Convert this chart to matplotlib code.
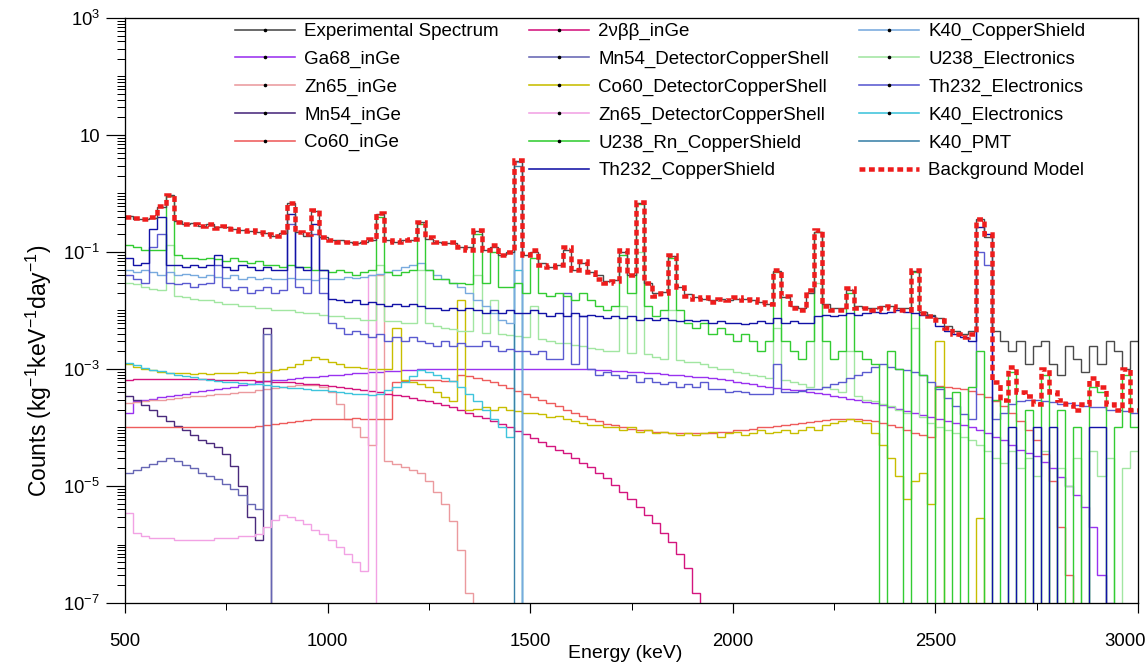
import numpy as np
import matplotlib
matplotlib.use('Agg')
import matplotlib.pyplot as plt
import matplotlib.transforms as mtransforms
from matplotlib.lines import Line2D
from matplotlib.ticker import FixedLocator, FixedFormatter, NullFormatter

FONT = 'Liberation Sans'
plt.rcParams['font.family'] = [FONT, 'DejaVu Sans']
plt.rcParams['mathtext.fontset'] = 'custom'
plt.rcParams['mathtext.rm'] = FONT
plt.rcParams['mathtext.it'] = FONT
plt.rcParams['mathtext.bf'] = FONT

# ---------------- data (20 keV bins, 500-3000 keV) ----------------
E_MIN, E_MAX, E_BIN = 500, 3000, 20

experimental = [
    0.42, 0.37, 0.37, 0.38, 0.58, 0.95, 0.34, 0.30, 0.31, 0.28,
    0.30, 0.27, 0.27, 0.25, 0.24, 0.23, 0.22, 0.21, 0.19, 0.21,
    0.68, 0.22, 0.19, 0.50, 0.18, 0.16, 0.16, 0.15, 0.14, 0.15,
    0.16, 0.45, 0.16, 0.15, 0.16, 0.16, 0.32, 0.17, 0.15, 0.14,
    0.14, 0.12, 0.12, 0.23, 0.11, 0.12, 0.09, 0.10, 3.6, 0.09,
    0.10, 0.065, 0.055, 0.06, 0.11, 0.05, 0.065, 0.045, 0.04, 0.032,
    0.033, 0.10, 0.04, 0.70, 0.03, 0.02, 0.021, 0.085, 0.025, 0.019,
    0.017, 0.016, 0.015, 0.016, 0.015, 0.016, 0.016, 0.015, 0.014, 0.013,
    0.048, 0.017, 0.012, 0.011, 0.02, 0.22, 0.013, 0.011, 0.011, 0.022,
    0.012, 0.011, 0.011, 0.012, 0.012, 0.011, 0.011, 0.047, 0.0095, 0.0085,
    0.0075, 0.0055, 0.0045, 0.004, 0.0045, 0.36, 0.18, 0.0045, 0.003, 0.002,
    0.003, 0.0012, 0.0025, 0.003, 0.0012, 0.0008, 0.0025, 0.0015, 0.0009, 0.0025,
    0.0012, 0.003, 0.002, 0.001, 0.003,
]

background_model = [
    0.40, 0.38, 0.36, 0.40, 0.60, 0.95, 0.33, 0.30, 0.30, 0.28,
    0.30, 0.26, 0.28, 0.25, 0.23, 0.24, 0.22, 0.20, 0.19, 0.22,
    0.70, 0.22, 0.20, 0.52, 0.18, 0.16, 0.15, 0.15, 0.14, 0.15,
    0.17, 0.46, 0.16, 0.15, 0.16, 0.17, 0.33, 0.18, 0.15, 0.14,
    0.15, 0.12, 0.11, 0.24, 0.11, 0.13, 0.09, 0.10, 3.8, 0.09,
    0.11, 0.06, 0.055, 0.06, 0.12, 0.05, 0.07, 0.045, 0.035, 0.03,
    0.032, 0.11, 0.04, 0.72, 0.03, 0.018, 0.02, 0.09, 0.025, 0.018,
    0.016, 0.017, 0.014, 0.016, 0.015, 0.017, 0.015, 0.016, 0.014, 0.013,
    0.05, 0.018, 0.011, 0.010, 0.022, 0.24, 0.012, 0.010, 0.010, 0.024,
    0.011, 0.011, 0.010, 0.011, 0.012, 0.010, 0.010, 0.05, 0.009, 0.008,
    0.007, 0.005, 0.004, 0.0035, 0.004, 0.37, 0.2, 6e-4, 3e-4, 1.1e-3,
    4e-4, 3.5e-4, 2.5e-4, 1e-3, 4e-4, 3e-4, 2.5e-4, 2e-4, 2.5e-4, 7e-4,
    5e-4, 2.5e-4, 2e-4, 1e-3, 2e-4,
]

ga68_inge = [
    1.8e-4, 2.8e-4, 3.0e-4, 3.1e-4, 3.3e-4, 3.4e-4, 3.6e-4, 3.8e-4, 4.0e-4, 4.2e-4,
    4.4e-4, 4.6e-4, 4.8e-4, 5.0e-4, 5.3e-4, 5.6e-4, 5.9e-4, 6.2e-4, 6.4e-4, 6.6e-4,
    6.8e-4, 7.0e-4, 7.2e-4, 7.4e-4, 7.6e-4, 7.8e-4, 8.0e-4, 8.2e-4, 8.4e-4, 8.6e-4,
    8.8e-4, 9.0e-4, 9.2e-4, 9.4e-4, 9.6e-4, 9.8e-4, 1.0e-3, 1.0e-3, 1.0e-3, 1.0e-3,
    1.0e-3, 1.0e-3, 1.0e-3, 1.0e-3, 1.0e-3, 1.0e-3, 1.0e-3, 1.0e-3, 1.0e-3, 1.0e-3,
    1.0e-3, 1.0e-3, 1.0e-3, 1.0e-3, 1.0e-3, 1.0e-3, 1.0e-3, 1.0e-3, 9.8e-4, 9.6e-4,
    9.4e-4, 9.2e-4, 9.0e-4, 8.8e-4, 8.6e-4, 8.4e-4, 8.2e-4, 8.0e-4, 7.8e-4, 7.6e-4,
    7.4e-4, 7.2e-4, 7.0e-4, 6.7e-4, 6.4e-4, 6.1e-4, 5.8e-4, 5.5e-4, 5.2e-4, 5.0e-4,
    4.8e-4, 4.6e-4, 4.4e-4, 4.3e-4, 4.1e-4, 3.9e-4, 3.7e-4, 3.5e-4, 3.3e-4, 3.1e-4,
    2.9e-4, 2.75e-4, 2.6e-4, 2.4e-4, 2.25e-4, 2.1e-4, 1.95e-4, 1.8e-4, 1.65e-4, 1.5e-4,
    1.4e-4, 1.3e-4, 1.2e-4, 1.1e-4, 1.0e-4, 9e-5, 8e-5, 7e-5, 6e-5, 5e-5,
    4.2e-5, 3.7e-5, 3.2e-5, 2.6e-5, 2.0e-5, 1.4e-5, 1.0e-5, 7e-6, 4.4e-6, 2e-6,
    3e-7, 1e-7, 0, 0, 0,
]

zn65_inge = [
    2.6e-4, 2.7e-4, 2.8e-4, 2.9e-4, 3.0e-4, 3.1e-4, 3.2e-4, 3.3e-4, 3.4e-4, 3.5e-4,
    3.6e-4, 3.7e-4, 3.8e-4, 3.9e-4, 4.0e-4, 4.1e-4, 4.3e-4, 4.5e-4, 4.7e-4, 4.9e-4,
    5.1e-4, 5.3e-4, 5.4e-4, 5.4e-4, 5.0e-4, 4.0e-4, 2.5e-4, 1.4e-4, 1.0e-4, 7e-5,
    5e-5, 0.04, 2.7e-5, 2.4e-5, 2.1e-5, 1.9e-5, 1.7e-5, 1.2e-5, 8e-6, 5e-6,
    2.5e-6, 8e-7, 1.5e-7, 0, 0, 0, 0, 0, 0, 0,
] + [0] * 75

mn54_inge = [
    3.4e-4, 3.0e-4, 2.4e-4, 2.0e-4, 1.6e-4, 1.3e-4, 1.05e-4, 9e-5, 7.5e-5, 6.2e-5,
    5.5e-5, 4.7e-5, 3.5e-5, 2.2e-5, 1.0e-5, 3e-6, 1.2e-6, 5e-3, 0, 0,
] + [0] * 105

co60_inge = [
    1.0e-4, 1.0e-4, 1.0e-4, 1.0e-4, 1.0e-4, 1.0e-4, 1.0e-4, 1.0e-4, 1.0e-4, 1.0e-4,
    1.0e-4, 1.0e-4, 1.0e-4, 1.0e-4, 1.0e-4, 1.0e-4, 1.05e-4, 1.1e-4, 1.15e-4, 1.2e-4,
    1.25e-4, 1.3e-4, 1.35e-4, 1.4e-4, 1.4e-4, 1.4e-4, 1.4e-4, 1.4e-4, 1.45e-4, 1.4e-4,
    1.4e-4, 1.4e-4, 1.4e-4, 6.0e-4, 6.2e-4, 6.5e-4, 6.5e-4, 6.5e-4, 6.5e-4, 6.3e-4,
    6.2e-4, 8.0e-4, 7.5e-4, 7.0e-4, 6.5e-4, 6.0e-4, 5.3e-4, 4.8e-4, 4.2e-4, 3.8e-4,
    3.3e-4, 3.0e-4, 2.6e-4, 2.3e-4, 2.0e-4, 1.8e-4, 1.6e-4, 1.4e-4, 1.3e-4, 1.15e-4,
    1.1e-4, 1.0e-4, 9.5e-5, 9e-5, 9e-5, 8.5e-5, 8.5e-5, 8e-5, 8e-5, 8e-5,
    8e-5, 8e-5, 8e-5, 8.5e-5, 8.5e-5, 9e-5, 9e-5, 9.5e-5, 1.0e-4, 1.0e-4,
    1.05e-4, 1.1e-4, 1.15e-4, 1.2e-4, 1.25e-4, 1.3e-4, 1.35e-4, 1.4e-4, 1.4e-4, 1.4e-4,
    1.4e-4, 1.35e-4, 1.3e-4, 1.2e-4, 1.1e-4, 1.0e-4, 9e-5, 8e-5, 7.5e-5, 7e-5,
    5.2e-4, 5.0e-4, 4.8e-4, 4.5e-4, 4.2e-4, 3.8e-4, 3.3e-4, 2.8e-4, 2.3e-4, 1.8e-4,
    1.3e-4, 9e-5, 6e-5, 3.5e-5, 1.2e-5, 2e-6, 3e-7, 0, 0, 0,
    0, 0, 0, 0, 0,
]

two_nu_bb_inge = [
    6.6e-4, 6.7e-4, 6.7e-4, 6.8e-4, 6.8e-4, 6.8e-4, 6.8e-4, 6.8e-4, 6.7e-4, 6.7e-4,
    6.7e-4, 6.6e-4, 6.6e-4, 6.5e-4, 6.5e-4, 6.4e-4, 6.3e-4, 6.2e-4, 6.1e-4, 6.0e-4,
    5.9e-4, 5.8e-4, 5.6e-4, 5.5e-4, 5.4e-4, 5.2e-4, 5.0e-4, 4.8e-4, 4.6e-4, 4.4e-4,
    4.2e-4, 4.0e-4, 3.8e-4, 3.6e-4, 3.4e-4, 3.2e-4, 3.0e-4, 2.8e-4, 2.6e-4, 2.4e-4,
    2.2e-4, 2.0e-4, 1.8e-4, 1.6e-4, 1.45e-4, 1.3e-4, 1.15e-4, 1.0e-4, 8.8e-5, 7.6e-5,
    6.6e-5, 5.7e-5, 4.9e-5, 4.2e-5, 3.6e-5, 3.0e-5, 2.5e-5, 2.1e-5, 1.7e-5, 1.35e-5,
    1.05e-5, 8e-6, 6e-6, 4.4e-6, 3.2e-6, 2.3e-6, 1.6e-6, 1.1e-6, 7e-7, 4e-7,
    1.5e-7, 0, 0, 0, 0, 0, 0, 0, 0, 0,
] + [0] * 45

mn54_detector_cu = [
    1.7e-5, 1.9e-5, 2.1e-5, 2.4e-5, 2.7e-5, 3.0e-5, 2.7e-5, 2.3e-5, 2.0e-5, 1.7e-5,
    1.5e-5, 1.3e-5, 1.1e-5, 9e-6, 7e-6, 5e-6, 4e-6, 4e-3, 0, 0,
] + [0] * 105

co60_detector_cu = [
    1.2e-3, 1.1e-3, 1.0e-3, 9.5e-4, 9.0e-4, 8.6e-4, 8.4e-4, 8.6e-4, 8.2e-4, 8.5e-4,
    8.3e-4, 8.6e-4, 8.4e-4, 8.6e-4, 8.8e-4, 8.6e-4, 8.8e-4, 9.0e-4, 9.5e-4, 1.0e-3,
    1.1e-3, 1.2e-3, 1.4e-3, 1.6e-3, 1.5e-3, 1.3e-3, 1.2e-3, 1.1e-3, 1.1e-3, 1.05e-3,
    1.0e-3, 1.0e-3, 1.0e-3, 5e-3, 6.5e-4, 6.0e-4, 5.5e-4, 5.0e-4, 4.0e-4, 3.3e-4,
    2.8e-4, 1.5e-2, 2.0e-4, 2.1e-4, 2.2e-4, 2.0e-4, 2.2e-4, 2.0e-4, 1.9e-4, 1.8e-4,
    1.8e-4, 1.7e-4, 1.5e-4, 1.6e-4, 1.4e-4, 1.3e-4, 1.2e-4, 1.1e-4, 1.1e-4, 1.0e-4,
    1.0e-4, 9e-5, 1.0e-4, 8.5e-5, 9e-5, 8e-5, 8.5e-5, 8e-5, 7.5e-5, 8e-5,
    7.5e-5, 8e-5, 8.5e-5, 7e-5, 8e-5, 8.5e-5, 7.5e-5, 8e-5, 9e-5, 8e-5,
    8.5e-5, 9e-5, 8e-5, 9e-5, 1.0e-4, 9e-5, 1.1e-4, 1.2e-4, 1.3e-4, 1.4e-4,
    1.3e-4, 1.2e-4, 8e-5, 5e-5, 3e-5, 1.5e-5, 6e-6, 1.2e-5, 1.7e-5, 5e-6,
    3e-3, 0, 0, 0, 0, 2.8e-6, 0, 0, 0, 0,
] + [0] * 15

zn65_detector_cu = [
    3.4e-6, 1.6e-6, 1.4e-6, 1.3e-6, 1.3e-6, 1.3e-6, 1.2e-6, 1.2e-6, 1.2e-6, 1.2e-6,
    1.2e-6, 1.3e-6, 1.3e-6, 1.3e-6, 1.4e-6, 1.4e-6, 1.5e-6, 2.0e-6, 2.6e-6, 3.2e-6,
    3.0e-6, 2.6e-6, 2.2e-6, 1.8e-6, 1.5e-6, 1.2e-6, 9e-7, 7e-7, 5e-7, 3.5e-7,
    0.04, 0, 0, 0, 0, 0, 0, 0, 0, 0,
] + [0] * 85

u238_rn_copper_shield = [
    0.13, 0.12, 0.11, 0.11, 0.11, 0.90, 0.09, 0.08, 0.08, 0.075,
    0.08, 0.075, 0.07, 0.08, 0.07, 0.065, 0.07, 0.06, 0.06, 0.055,
    0.06, 0.055, 0.055, 0.05, 0.05, 0.045, 0.05, 0.045, 0.04, 0.045,
    0.05, 0.40, 0.045, 0.04, 0.045, 0.05, 0.30, 0.05, 0.035, 0.035,
    0.03, 0.03, 0.028, 0.20, 0.03, 0.10, 0.025, 0.025, 0.03, 0.02,
    0.08, 0.02, 0.018, 0.02, 0.018, 0.015, 0.02, 0.015, 0.012, 0.01,
    0.012, 0.09, 0.02, 0.65, 0.012, 0.008, 0.01, 0.08, 0.01, 0.006,
    0.005, 0.006, 0.004, 0.005, 0.004, 0.003, 0.004, 0.003, 0.002, 0.003,
    0.045, 0.003, 0.002, 0.0015, 0.003, 0.22, 0.003, 0.0015, 0.002, 0.02,
    0.002, 0.0015, 0.0012, 0, 0.002, 0.001, 0, 0.045, 0.0008, 0,
    0.0005, 0, 0.0004, 0, 0.0005, 0.002, 0, 0.0003, 0, 0.0009,
    0, 0.0002, 0, 0.0008, 0, 0.0002, 0, 0.0001, 0, 0.0005,
    0.0004, 0, 0.0001, 0.0008, 0.0001,
]

th232_copper_shield = [
    0.08, 0.06, 0.065, 0.25, 0.40, 0.06, 0.06, 0.055, 0.06, 0.055,
    0.06, 0.09, 0.055, 0.05, 0.06, 0.055, 0.05, 0.055, 0.05, 0.05,
    0.45, 0.055, 0.05, 0.30, 0.05, 0.016, 0.015, 0.014, 0.015, 0.013,
    0.014, 0.013, 0.012, 0.013, 0.012, 0.013, 0.012, 0.011, 0.011, 0.010,
    0.011, 0.010, 0.011, 0.010, 0.009, 0.010, 0.009, 0.010, 0.009, 0.009,
    0.010, 0.009, 0.008, 0.009, 0.008, 0.009, 0.008, 0.0085, 0.008, 0.0075,
    0.008, 0.0075, 0.008, 0.007, 0.0075, 0.007, 0.0075, 0.007, 0.0065, 0.007,
    0.0065, 0.007, 0.006, 0.0065, 0.006, 0.0062, 0.0058, 0.006, 0.0065, 0.006,
    0.0075, 0.006, 0.0065, 0.006, 0.0062, 0.008, 0.0085, 0.008, 0.0085, 0.009,
    0.0085, 0.009, 0.0095, 0.009, 0.0095, 0.010, 0.0095, 0.009, 0.0085, 0.008,
    0.0055, 0.0045, 0.004, 0.0035, 0.003, 0.27, 0.2, 0, 0, 1e-4,
    0, 0, 1e-4, 0, 1e-4, 0, 0, 0, 0, 1e-4,
    1e-4, 0, 0, 0, 0,
]

k40_copper_shield = [
    0.05, 0.045, 0.05, 0.045, 0.04, 0.045, 0.04, 0.042, 0.04, 0.038,
    0.04, 0.038, 0.036, 0.04, 0.035, 0.038, 0.035, 0.036, 0.034, 0.035,
    0.036, 0.034, 0.035, 0.033, 0.036, 0.034, 0.035, 0.037, 0.036, 0.038,
    0.04, 0.042, 0.045, 0.05, 0.055, 0.06, 0.065, 0.05, 0.04, 0.035,
    0.03, 0.025, 0.02, 0.015, 0.012, 0.009, 0.007, 0.006, 3.5, 0,
] + [0] * 75

u238_electronics = [
    0.03, 0.028, 0.025, 0.023, 0.022, 0.13, 0.018, 0.017, 0.016, 0.015,
    0.015, 0.014, 0.013, 0.013, 0.012, 0.012, 0.011, 0.011, 0.010, 0.010,
    0.010, 0.0095, 0.009, 0.009, 0.0085, 0.008, 0.008, 0.0075, 0.0075, 0.007,
    0.007, 0.06, 0.0065, 0.0065, 0.006, 0.006, 0.05, 0.006, 0.0055, 0.005,
    0.0048, 0.0045, 0.0045, 0.04, 0.0042, 0.015, 0.004, 0.0038, 0.0036, 0.0035,
    0.012, 0.0032, 0.003, 0.0028, 0.0028, 0.0026, 0.0025, 0.0023, 0.0022, 0.002,
    0.002, 0.012, 0.0019, 0.1, 0.0018, 0.0016, 0.0015, 0.01, 0.0014, 0.0013,
    0.0013, 0.0012, 0.0011, 0.001, 0.001, 9e-4, 8.5e-4, 8e-4, 7.5e-4, 7e-4,
    0.005, 6.5e-4, 6e-4, 5.5e-4, 5e-4, 0.03, 5e-4, 4.5e-4, 4e-4, 0.002,
    3.5e-4, 3e-4, 2.8e-4, 2.5e-4, 2.3e-4, 2e-4, 1.8e-4, 0.005, 1.5e-4, 1.2e-4,
    1e-4, 9e-5, 8e-5, 7e-5, 6e-5, 5e-5, 4e-5, 3e-5, 2.5e-5, 4e-5,
    2e-5, 3e-5, 1.5e-5, 4e-5, 0, 2e-5, 1e-5, 3e-5, 0, 4e-5,
    1.5e-5, 3e-5, 0, 2e-5, 4e-5,
]

th232_electronics = [
    0.04, 0.035, 0.03, 0.12, 0.20, 0.03, 0.028, 0.03, 0.025, 0.028,
    0.03, 0.06, 0.025, 0.022, 0.025, 0.02, 0.022, 0.025, 0.02, 0.022,
    0.30, 0.025, 0.02, 0.20, 0.02, 0.006, 0.005, 0.004, 0.0045, 0.004,
    0.0035, 0.004, 0.003, 0.0035, 0.003, 0.0035, 0.003, 0.0028, 0.0025, 0.003,
    0.0025, 0.0028, 0.0025, 0.0025, 0.003, 0.0025, 0.002, 0.0022, 0.002, 0.002,
    0.0018, 0.002, 0.0015, 0.0015, 0.02, 0.0012, 0.008, 0.001, 8e-4, 9e-4,
    8e-4, 7e-4, 8e-4, 6e-4, 7e-4, 6e-4, 5.5e-4, 6e-4, 5e-4, 5.5e-4,
    5e-4, 6e-4, 4.5e-4, 4.5e-4, 4e-4, 4.2e-4, 4e-4, 3.8e-4, 3.7e-4, 3.8e-4,
    1.2e-3, 4e-4, 4e-4, 4.2e-4, 4.5e-4, 4.5e-4, 5e-4, 5.5e-4, 6e-4, 7e-4,
    8e-4, 9e-4, 1.1e-3, 1.2e-3, 1.1e-3, 1e-3, 9.5e-4, 9e-4, 8e-4, 6e-4,
    4.5e-4, 3.2e-4, 2.3e-4, 1.7e-4, 1.4e-4, 0.1, 0.06, 1.4e-4, 1.8e-4, 2.5e-4,
    2.8e-4, 3e-4, 3e-4, 2.8e-4, 2.7e-4, 2.5e-4, 2.6e-4, 2.4e-4, 2.3e-4, 2.2e-4,
    2.2e-4, 2e-4, 2e-4, 1.9e-4, 1.8e-4,
]

k40_electronics = [
    1.25e-3, 1.15e-3, 1.05e-3, 9.8e-4, 9.2e-4, 8.6e-4, 8.0e-4, 7.6e-4, 7.2e-4, 6.8e-4,
    6.5e-4, 6.3e-4, 6.1e-4, 6.0e-4, 5.8e-4, 5.6e-4, 5.5e-4, 5.4e-4, 5.2e-4, 5.0e-4,
    4.8e-4, 4.7e-4, 4.5e-4, 4.4e-4, 4.3e-4, 4.2e-4, 4.0e-4, 3.9e-4, 3.8e-4, 3.7e-4,
    3.6e-4, 3.8e-4, 4.3e-4, 5.0e-4, 6.0e-4, 7.5e-4, 9.5e-4, 9.0e-4, 8.0e-4, 7.0e-4,
    6.2e-4, 5.0e-4, 3.8e-4, 2.8e-4, 2.0e-4, 1.4e-4, 1.0e-4, 7e-5, 0.05, 0,
] + [0] * 75

k40_pmt = [0] * 48 + [3.0] + [0] * 76

# legend labels, in legend order (column by column)
labels = [
    'Experimental Spectrum', 'Ga68_inGe', 'Zn65_inGe', 'Mn54_inGe', 'Co60_inGe', '',
    '2\u03bd\u03b2\u03b2_inGe', 'Mn54_DetectorCopperShell', 'Co60_DetectorCopperShell',
    'Zn65_DetectorCopperShell', 'U238_Rn_CopperShield', 'Th232_CopperShield',
    'K40_CopperShield', 'U238_Electronics', 'Th232_Electronics', 'K40_Electronics',
    'K40_PMT', 'Background Model',
]

# ---------------- styles ----------------
colors = {
    'exp': '#4a4a4a', 'ga68': '#9a32f0', 'zn65': '#eb9a9e', 'mn54': '#4a2a7c',
    'co60': '#ee5c5c', 'bb': '#d4157e', 'mn54cu': '#6666b4', 'co60cu': '#c8be00',
    'zn65cu': '#f2a2e4', 'u238rn': '#33cc33', 'th232cu': '#1212a6', 'k40cu': '#78aade',
    'u238el': '#a2e6a2', 'th232el': '#5a5ad0', 'k40el': '#3ec4dc', 'k40pmt': '#3a82a8',
    'model': '#ee1c1c',
}

W, H, DPI = 1147, 662, 100
PX = 72.0 / DPI  # points per pixel

fig = plt.figure(figsize=(W / DPI, H / DPI), dpi=DPI)
ax = fig.add_axes([125 / W, 1 - 603 / H, (1138 - 125) / W, (603 - 18) / H])
ax.set_yscale('log')

edges = np.arange(E_MIN, E_MAX + E_BIN, E_BIN)

components = [
    (ga68_inge, 'ga68'), (zn65_inge, 'zn65'), (mn54_inge, 'mn54'), (co60_inge, 'co60'),
    (two_nu_bb_inge, 'bb'), (mn54_detector_cu, 'mn54cu'), (co60_detector_cu, 'co60cu'),
    (zn65_detector_cu, 'zn65cu'), (u238_electronics, 'u238el'), (k40_electronics, 'k40el'),
    (k40_pmt, 'k40pmt'), (k40_copper_shield, 'k40cu'), (th232_electronics, 'th232el'),
    (u238_rn_copper_shield, 'u238rn'), (th232_copper_shield, 'th232cu'),
]
for vals, key in components:
    ax.stairs(np.asarray(vals, dtype=float), edges, baseline=None,
              color=colors[key], lw=1.4 * PX)

ax.stairs(np.asarray(experimental, float), edges, baseline=None, color=colors['exp'], lw=1.4 * PX)
ax.stairs(np.asarray(background_model, float), edges, baseline=None,
          color=colors['model'], lw=4.5 * PX, linestyle=(0, (1.3, 0.8)))

ax.set_xlim(E_MIN, E_MAX)
ax.set_ylim(1e-7, 1e3)

# ticks
ax.xaxis.set_major_locator(FixedLocator([500, 1000, 1500, 2000, 2500, 3000]))
ax.xaxis.set_minor_locator(FixedLocator([750, 1250, 1750, 2250, 2750]))
ymaj = [1e3, 1e1, 1e-1, 1e-3, 1e-5, 1e-7]
ymaj_lab = ['$10^{3}$', '10', '$10^{-1}$', '$10^{-3}$', '$10^{-5}$', '$10^{-7}$']
ax.yaxis.set_major_locator(FixedLocator(ymaj))
ax.yaxis.set_major_formatter(FixedFormatter(ymaj_lab))
yminor = []
for e in range(-7, 3):
    for k in range(1, 10):
        if k == 1 and (e % 2 != 0):
            continue
        yminor.append(k * 10.0 ** e)
ax.yaxis.set_minor_locator(FixedLocator(yminor))
ax.yaxis.set_minor_formatter(NullFormatter())

fs_tick = 13.3
ax.tick_params(axis='x', which='major', direction='out', length=10 * PX, width=1.2 * PX,
               labelsize=fs_tick, pad=20 * PX)
ax.tick_params(axis='x', which='minor', direction='out', length=7 * PX, width=1.0 * PX)
ax.tick_params(axis='y', which='major', direction='out', length=19 * PX, width=1.2 * PX,
               labelsize=fs_tick, pad=6 * PX)
ax.tick_params(axis='y', which='minor', direction='out', length=8 * PX, width=1.0 * PX)
for sp in ax.spines.values():
    sp.set_linewidth(1.3 * PX)

# keep the last x tick label inside the picture
fig.canvas.draw()
last = ax.get_xticklabels()[-1]
last.set_horizontalalignment('right')
last.set_transform(last.get_transform() + mtransforms.ScaledTranslation(8 / DPI, 0, fig.dpi_scale_trans))

ax.set_xlabel('Energy (keV)', fontsize=14, labelpad=0)
ax.xaxis.set_label_coords(0.494, -0.072)
ax.set_ylabel('Counts (kg$^{-1}$keV$^{-1}$day$^{-1}$)', fontsize=16.5)
ax.yaxis.set_label_coords(-0.070, 0.397)

# legend
order_keys = ['exp', 'ga68', 'zn65', 'mn54', 'co60', None,
              'bb', 'mn54cu', 'co60cu', 'zn65cu', 'u238rn', 'th232cu',
              'k40cu', 'u238el', 'th232el', 'k40el', 'k40pmt', 'model']
handles = []
for key in order_keys:
    if key is None:
        handles.append(Line2D([], [], color='none'))
    elif key == 'model':
        handles.append(Line2D([], [], color=colors['model'], lw=4.5 * PX, linestyle=(0, (1.3, 0.8))))
    elif key in ('th232cu', 'k40pmt'):
        handles.append(Line2D([], [], color=colors[key], lw=1.6 * PX))
    else:
        handles.append(Line2D([], [], color=colors[key], lw=1.6 * PX, marker='o',
                              markersize=2.2 * PX, markerfacecolor='black', markeredgecolor='black'))

ax.legend(handles, labels, ncol=3, loc='upper left',
          bbox_to_anchor=(235 / W, 1 - 23 / H), bbox_transform=fig.transFigure,
          frameon=False, fontsize=13.5, handlelength=3.2, handletextpad=0.5,
          columnspacing=1.6, labelspacing=0.56, borderpad=0, borderaxespad=0)

fig.savefig('out.png', dpi=DPI)
